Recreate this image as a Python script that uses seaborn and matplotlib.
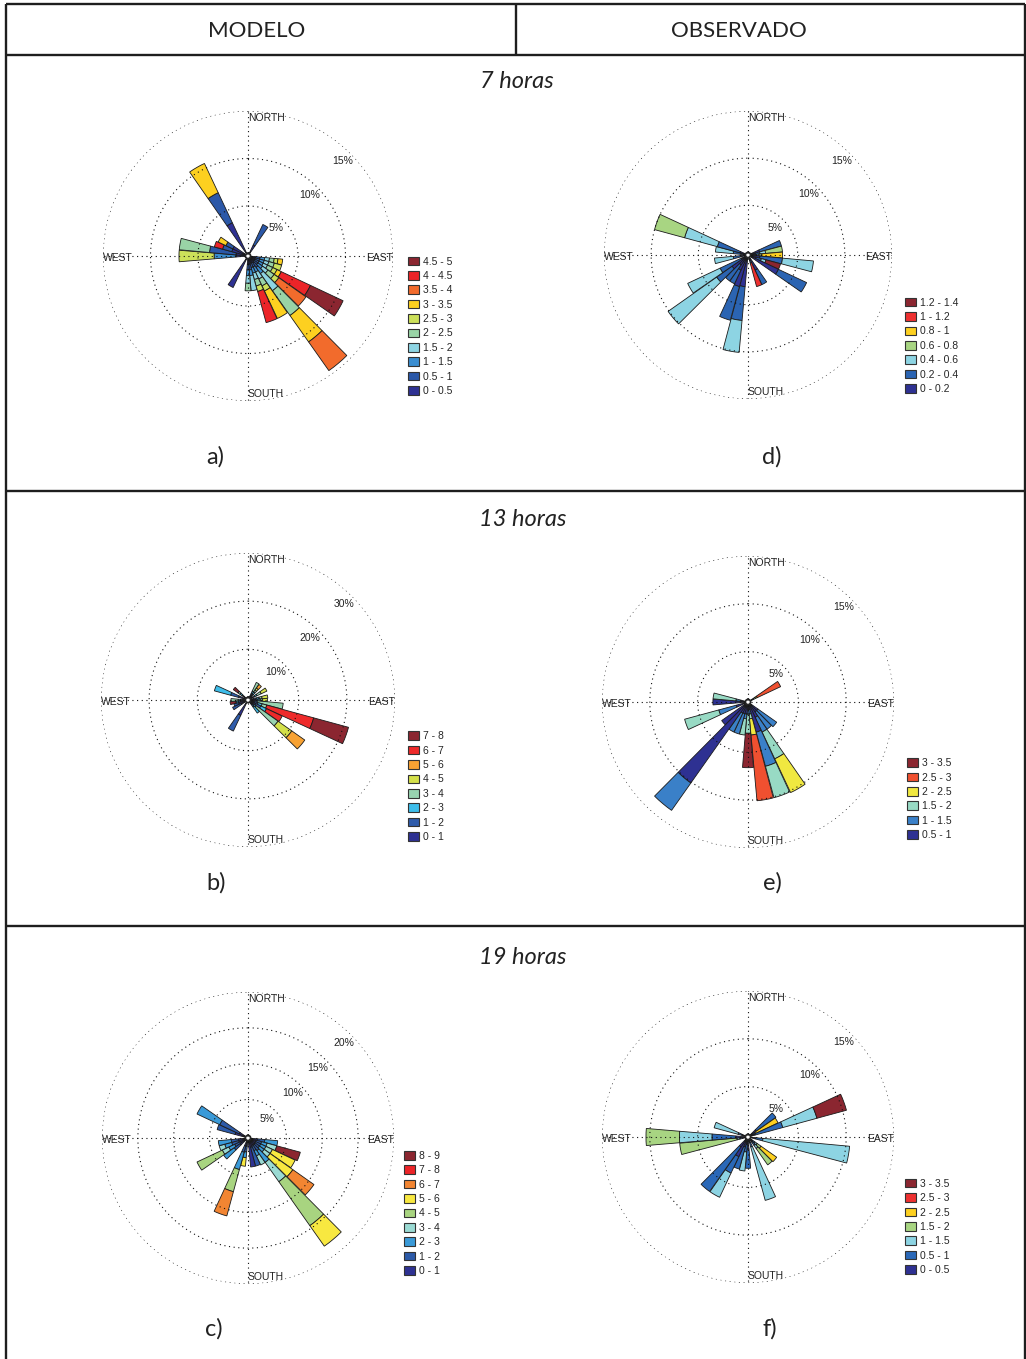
import numpy as np
import matplotlib
matplotlib.use("Agg")
import matplotlib.pyplot as plt
from matplotlib.patches import Patch
import seaborn as sns

sns.set_theme(style="white")
plt.rcParams["font.family"] = ["Liberation Sans", "DejaVu Sans"]

# ---------------- data (percent frequency per direction and speed class) ----------------
# a) modelo 7 horas
a_bins = ["0 - 0.5", "0.5 - 1", "1 - 1.5", "1.5 - 2", "2 - 2.5",
          "2.5 - 3", "3 - 3.5", "3.5 - 4", "4 - 4.5", "4.5 - 5"]
a_colors = ["#2e3192", "#2b58a8", "#3a8dd0", "#8dd4e3", "#99d3a6",
            "#cce05a", "#fdd020", "#f26b2c", "#ec2428", "#8b2630"]
a_dirs = [30, 100, 110, 120, 130, 140, 150, 160, 170, 180, 210, 270, 280, 290, 300, 330]
a_freq = [
    [1.0, 2.4, 0, 0, 0, 0, 0, 0, 0, 0],
    [0.5, 0.5, 0.5, 0.5, 0.5, 0.4, 0.5, 0, 0, 0],
    [0.5, 0.5, 0.5, 0.5, 0.6, 0.8, 0, 0, 0, 0],
    [0.5, 0.5, 0.5, 0.5, 0.6, 0.5, 0.5, 0, 3.4, 3.8],
    [0.5, 0.5, 0.6, 0.7, 0.8, 0.6, 0, 3.5, 0, 0],
    [0.6, 0.6, 0.8, 2.2, 3.2, 0, 3.4, 3.7, 0, 0],
    [0.5, 0.5, 0.6, 0.8, 0.8, 0.6, 3.2, 0, 0, 0],
    [0.5, 0.5, 0.6, 0.7, 0.7, 0.6, 0, 0, 3.4, 0],
    [0.6, 0.6, 0.6, 1.6, 0, 0, 0, 0, 0, 0],
    [0.6, 0.6, 0.6, 0.8, 0.8, 0, 0, 0, 0, 0],
    [3.4, 0, 0, 0, 0, 0, 0, 0, 0, 0],
    [1.0, 0, 2.3, 0, 0, 3.7, 0, 0, 0, 0],
    [1.0, 2.8, 0, 0, 3.2, 0, 0, 0, 0, 0],
    [1.5, 1.0, 0, 0, 0, 0, 0, 0, 0.9, 0],
    [1.5, 0.8, 0, 0, 0, 0, 0.9, 0, 0, 0],
    [3.6, 3.5, 0, 0, 0, 0, 3.4, 0, 0, 0],
]
a_rings = [5, 10, 15]

# d) observado 7 horas
d_bins = ["0 - 0.2", "0.2 - 0.4", "0.4 - 0.6", "0.6 - 0.8", "0.8 - 1", "1 - 1.2", "1.2 - 1.4"]
d_colors = ["#2e3192", "#2b64b2", "#8dd4e3", "#a8d582", "#fdd020", "#ee3030", "#8b2630"]
d_dirs = [70, 80, 90, 100, 110, 120, 150, 160, 190, 200, 210, 220, 230, 240, 260, 280, 290]
d_freq = [
    [1.0, 2.4, 0, 0, 0, 0, 0],
    [0.5, 0.5, 0.6, 1.8, 0, 0, 0],
    [0.3, 0.3, 0.3, 0.3, 2.2, 0, 0],
    [1.0, 2.4, 3.3, 0, 0, 0, 0],
    [0.6, 0.6, 0.5, 0, 0, 0, 1.6],
    [3.3, 3.3, 0, 0, 0, 0, 0],
    [1.5, 1.7, 0, 0, 0, 0, 0],
    [0.3, 0.3, 0, 0, 0, 2.6, 0],
    [3.1, 3.6, 3.4, 0, 0, 0, 0],
    [3.2, 3.7, 0, 0, 0, 0, 0],
    [1.5, 1.6, 0, 0, 0, 0, 0],
    [1.0, 2.1, 0, 0, 0, 0, 0],
    [1.8, 2.0, 6.3, 0, 0, 0, 0],
    [0.5, 2.5, 3.8, 0, 0, 0, 0],
    [0.5, 0.8, 2.0, 0, 0, 0, 0],
    [0.5, 0.8, 1.9, 0, 0, 0, 0],
    [0.6, 2.5, 3.6, 3.3, 0, 0, 0],
]
d_rings = [5, 10, 15]

# b) modelo 13 horas
b_bins = ["0 - 1", "1 - 2", "2 - 3", "3 - 4", "4 - 5", "5 - 6", "6 - 7", "7 - 8"]
b_colors = ["#2e3192", "#2f5cab", "#3dbdea", "#98d3b0", "#d4e04a", "#f8a233", "#ee2a2a", "#8b2630"]
b_dirs = [30, 40, 60, 80, 90, 100, 110, 120, 130, 140, 210, 240, 250, 260, 270, 290, 310]
b_freq = [
    [0.5, 0.5, 0.5, 2.0, 0, 0, 0, 0],
    [0.5, 0.5, 0.5, 0.5, 0.5, 0.9, 0, 0],
    [0.5, 0.5, 0.5, 1.0, 1.3, 0, 0, 0],
    [0.6, 0.6, 0.6, 0.6, 1.2, 0, 0, 0],
    [1.0, 0.5, 0.5, 0.5, 1.0, 0, 0, 0],
    [0.7, 0.7, 0, 5.4, 0, 0, 0, 0],
    [0.8, 0.8, 0.9, 1.0, 0, 0, 10.1, 7.5],
    [1.2, 1.2, 1.3, 0, 0, 0, 3.6, 0],
    [0.5, 0.5, 0.5, 5.6, 3.5, 3.3, 0, 0],
    [0.6, 0.6, 1.6, 0, 0, 0, 0, 0],
    [3.0, 3.6, 0, 0, 0, 0, 0, 0],
    [1.0, 2.0, 0, 0, 0, 0, 0, 0],
    [1.5, 1.0, 0, 0, 0, 0, 0, 0],
    [1.0, 0.5, 0.5, 0, 0, 0, 0, 1.2],
    [0.5, 0.5, 0.5, 1.5, 0, 0, 0, 0],
    [1.5, 1.7, 3.5, 0, 0, 0, 0, 0],
    [0.5, 0.5, 0.5, 0.5, 0, 0, 0, 1.2],
]
b_rings = [10, 20, 30]

# e) observado 13 horas
e_bins = ["0.5 - 1", "1 - 1.5", "1.5 - 2", "2 - 2.5", "2.5 - 3", "3 - 3.5"]
e_colors = ["#2e3192", "#3a80c8", "#98dac4", "#f0e840", "#f05030", "#8b2630"]
e_dirs = [60, 130, 140, 150, 160, 170, 180, 190, 200, 210, 220, 230, 250, 270, 280]
e_freq = [
    [0.2, 0.2, 0.2, 0.2, 2.7, 0],
    [1.0, 2.4, 0, 0, 0, 0],
    [1.0, 2.2, 0, 0, 0, 0],
    [1.5, 1.7, 3.1, 3.9, 0, 0],
    [3.0, 3.7, 3.4, 0, 0, 0],
    [0.5, 0.5, 0.5, 1.7, 6.9, 0],
    [0.5, 0.5, 2.0, 0, 0, 3.6],
    [1.0, 0.5, 1.7, 0, 0, 0],
    [1.0, 2.2, 0, 0, 0, 0],
    [1.0, 2.2, 0, 0, 0, 0],
    [10.1, 3.5, 0, 0, 0, 0],
    [3.1, 0, 0, 0, 0, 0],
    [1.0, 1.9, 3.7, 0, 0, 0],
    [3.4, 0, 0, 0, 0, 0],
    [0.5, 0.5, 2.4, 0, 0, 0],
]
e_rings = [5, 10, 15]

# c) modelo 19 horas
c_bins = ["0 - 1", "1 - 2", "2 - 3", "3 - 4", "4 - 5", "5 - 6", "6 - 7", "7 - 8", "8 - 9"]
c_colors = ["#2e3192", "#2c5aa8", "#3a9ad8", "#9adad3", "#a8d480",
            "#f8e840", "#f28532", "#ec2428", "#8b2630"]
c_dirs = [100, 110, 120, 130, 140, 150, 160, 170, 190, 200, 230, 240, 250, 260, 290, 300]
c_freq = [
    [1.0, 1.0, 1.8, 0, 0, 0, 0, 0, 0],
    [0.8, 0.8, 0.8, 1.4, 0, 0, 0, 0, 3.4],
    [0.8, 0.8, 0.8, 1.0, 0, 3.5, 0, 0, 0],
    [0.8, 0.8, 0.8, 1.0, 0, 3.9, 3.6, 0, 0],
    [0.9, 0.9, 2.0, 3.3, 7.5, 3.5, 0, 0, 0],
    [0.8, 0.8, 0.8, 1.4, 0, 0, 0, 0, 0],
    [1.0, 2.7, 0, 0, 0, 0, 0, 0, 0],
    [3.7, 0, 0, 0, 0, 0, 0, 0, 0],
    [0.8, 0.8, 0.8, 0, 0, 1.2, 0, 0, 0],
    [0.8, 0.9, 2.5, 0, 3.2, 0, 3.5, 0, 0],
    [1.0, 1.0, 1.8, 0, 0, 0, 0, 0, 0],
    [0.8, 0.9, 0.9, 1.0, 3.9, 0, 0, 0, 0],
    [1.0, 1.0, 1.0, 0.8, 0, 0, 0, 0, 0],
    [1.0, 1.0, 1.8, 0, 0, 0, 0, 0, 0],
    [1.5, 2.6, 0, 0, 0, 0, 0, 0, 0],
    [1.0, 3.0, 3.5, 0, 0, 0, 0, 0, 0],
]
c_rings = [5, 10, 15, 20]

# f) observado 19 horas
f_bins = ["0 - 0.5", "0.5 - 1", "1 - 1.5", "1.5 - 2", "2 - 2.5", "2.5 - 3", "3 - 3.5"]
f_colors = ["#2e3192", "#2a68b8", "#8dd4e3", "#a8d582", "#fdd020", "#ee3030", "#8b2630"]
f_dirs = [50, 60, 70, 100, 130, 140, 160, 180, 190, 200, 210, 220, 260, 270, 290]
f_freq = [
    [0.8, 2.5, 0, 0, 0, 0, 0],
    [0.3, 0.3, 0, 0, 2.6, 0, 0],
    [0.5, 3.0, 3.7, 0, 0, 0, 3.2],
    [0.5, 0.8, 9.1, 0, 0, 0, 0],
    [0.3, 0.3, 0.3, 0.5, 2.0, 0, 0],
    [0.4, 0.4, 0.4, 2.1, 0, 0, 0],
    [0.3, 0.5, 5.8, 0, 0, 0, 0],
    [1.0, 2.0, 0, 0, 0, 0, 0],
    [0.5, 0.8, 2.0, 0, 0, 0, 0],
    [0.8, 2.4, 0, 0, 0, 0, 0],
    [2.0, 1.9, 2.8, 0, 0, 0, 0],
    [1.0, 5.7, 0, 0, 0, 0, 0],
    [0.3, 0.3, 0.3, 6.0, 0, 0, 0],
    [1.0, 2.5, 3.4, 3.5, 0, 0, 0],
    [0.4, 0.4, 2.6, 0, 0, 0, 0],
]
f_rings = [5, 10, 15]

# ---------------- figure ----------------
W, H = 1026, 1359
fig = plt.figure(figsize=(W / 100, H / 100), dpi=100)
fig.patch.set_facecolor("white")

bg = fig.add_axes([0, 0, 1, 1])
bg.axis("off")
line_kw = dict(color="#1e1e1e", lw=1.7, solid_capstyle="butt")
bg.plot([6, 6], [4, H], **line_kw)
bg.plot([1025, 1025], [4, H], **line_kw)
for y in [4, 55, 491, 926]:
    bg.plot([6, 1025], [y, y], **line_kw)
bg.plot([516, 516], [4, 55], **line_kw)
bg.set_xlim(0, W)
bg.set_ylim(H, 0)

title_font = ["Lato", "DejaVu Sans"]
bg.text(257, 31, "MODELO", ha="center", va="center", fontsize=16, family=title_font, color="#222222")
bg.text(739, 31, "OBSERVADO", ha="center", va="center", fontsize=16, family=title_font, color="#222222")
for x, y, s in [(517, 81, "7 horas"), (523, 520, "13 horas"), (523, 957, "19 horas")]:
    bg.text(x, y, s, ha="center", va="center", fontsize=17, style="italic",
            family=title_font, color="#222222")
for x, y, s in [(215, 457, "a)"), (772, 457, "d)"), (216, 883, "b)"),
                (772, 883, "e)"), (214, 1329, "c)"), (770, 1329, "f)")]:
    bg.text(x, y, s, ha="center", va="center", fontsize=17, family=title_font, color="#222222")


def draw_rose(cx, cy, R, dirs, freq, colors, bins, rings, leg_x, leg_y):
    ax = fig.add_axes([(cx - R) / W, 1 - (cy + R) / H, 2 * R / W, 2 * R / H],
                      projection="polar")
    ax.set_facecolor("none")
    ax.set_theta_zero_location("N")
    ax.set_theta_direction(-1)
    rmax = rings[-1]
    o = 0.018 * rmax
    ax.set_ylim(0, rmax)
    ax.set_rorigin(-o)
    ax.grid(False)
    ax.set_xticks([])
    ax.set_yticks([])
    for s in ax.spines.values():
        s.set_visible(False)

    for d, row in zip(dirs, freq):
        bottom = 0.0
        for j, v in enumerate(row):
            if v <= 0:
                continue
            ax.bar(np.deg2rad(d), v, width=np.deg2rad(9.6), bottom=bottom,
                   color=colors[j], edgecolor="#1a1a1a", linewidth=0.6, zorder=2)
            bottom += v

    dot = dict(color="#111111", lw=0.8, ls=(0, (1, 3.2)), zorder=4)
    th = np.linspace(0, 2 * np.pi, 400)
    for r in rings:
        ax.plot(th, np.full_like(th, r), **dot)
    for t in [0, 0.5 * np.pi, np.pi, 1.5 * np.pi]:
        ax.plot([t, t], [0, rmax], **dot)

    per_px = (rmax + o) / R
    for r in rings:
        ax.text(np.deg2rad(45), r - 11 * per_px, f"{r}%", ha="center", va="center",
                fontsize=7.5, color="#222222", zorder=5)
    ax.text(0, rmax - 2 * per_px, "NORTH", ha="left", va="top", fontsize=7.5, color="#222222")
    ax.text(np.pi, rmax - 2 * per_px, "SOUTH", ha="left", va="bottom", fontsize=7.5, color="#222222")
    ax.text(0.5 * np.pi - 0.02, rmax, "EAST", ha="right", va="top", fontsize=7.5, color="#222222")
    ax.text(1.5 * np.pi + 0.02, rmax, "WEST", ha="left", va="top", fontsize=7.5, color="#222222")

    handles = [Patch(facecolor=c, edgecolor="#333333", linewidth=0.8, label=b)
               for c, b in zip(colors, bins)][::-1]
    ax.legend(handles=handles, loc="lower left", bbox_to_anchor=(leg_x / W, 1 - leg_y / H),
              bbox_transform=fig.transFigure, frameon=False, fontsize=7.5,
              handlelength=1.1, handleheight=0.9, handletextpad=0.3,
              labelspacing=0.42, borderpad=0, borderaxespad=0)
    return ax


draw_rose(248, 256, 145, a_dirs, a_freq, a_colors, a_bins, a_rings, 408, 396)
draw_rose(748, 255, 144, d_dirs, d_freq, d_colors, d_bins, d_rings, 905, 394)
draw_rose(248, 700, 147, b_dirs, b_freq, b_colors, b_bins, b_rings, 408, 842)
draw_rose(748, 702, 146, e_dirs, e_freq, e_colors, e_bins, e_rings, 907, 840)
draw_rose(248, 1138, 146, c_dirs, c_freq, c_colors, c_bins, c_rings, 404, 1276)
draw_rose(748, 1137, 146, f_dirs, f_freq, f_colors, f_bins, f_rings, 905, 1275)

fig.savefig("out.png", dpi=100)
